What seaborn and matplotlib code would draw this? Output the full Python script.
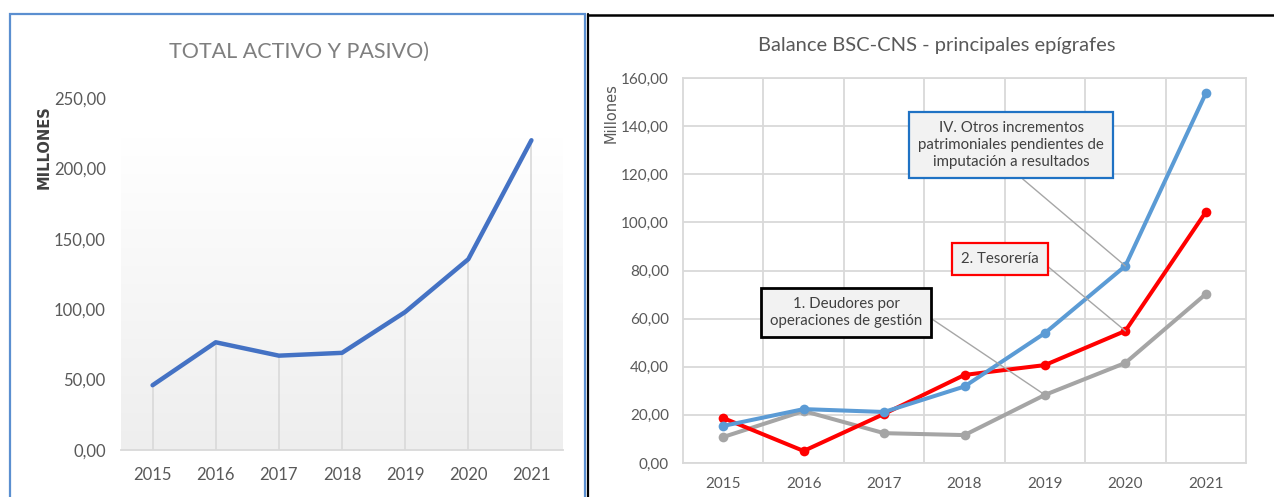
import numpy as np
import pandas as pd
import matplotlib
matplotlib.use("Agg")
import matplotlib.pyplot as plt
from matplotlib import font_manager
from matplotlib.colors import LinearSegmentedColormap
from matplotlib.lines import Line2D
from matplotlib.patches import Rectangle
import seaborn as sns

# -------------------------------
# Data
# -------------------------------
years = ["2015", "2016", "2017", "2018", "2019", "2020", "2021"]

# left chart: total activo y pasivo (millones)
total_activo_pasivo = [46.0, 76.5, 67.0, 69.0, 98.0, 135.5, 220.0]

# right chart: principales epigrafes (millones)
deudores = [10.8, 21.6, 12.4, 11.6, 28.3, 41.6, 70.2]
tesoreria = [18.7, 5.0, 20.4, 36.6, 40.7, 54.9, 104.3]
otros_incrementos = [15.4, 22.4, 21.2, 31.8, 54.0, 81.9, 153.6]

serie_names = ["1. Deudores por\noperaciones de gestión",
               "2. Tesorería",
               "IV. Otros incrementos\npatrimoniales pendientes de\nimputación a resultados"]
serie_colors = ["#a5a5a5", "#ff0000", "#5b9bd5"]

left_yticks = [0, 50, 100, 150, 200, 250]
right_yticks = [0, 20, 40, 60, 80, 100, 120, 140, 160]

# -------------------------------
# Style
# -------------------------------
sns.set_theme(style="white")
available = {f.name for f in font_manager.fontManager.ttflist}
narrow = "Liberation Sans Narrow" in available
base_font = "Liberation Sans Narrow" if narrow else "Lato"
plt.rcParams["font.family"] = [base_font, "DejaVu Sans"]
k = 1.15 if narrow else 1.0   # narrow fonts may be a bit bigger

txt = "#595959"
W, H = 1274, 497
fig = plt.figure(figsize=(W / 100, H / 100), dpi=100)
fig.patch.set_facecolor("white")


def fx(px):
    return px / W


def fy(py):
    return 1 - py / H


def fmt(v):
    return f"{v:.2f}".replace(".", ",")


# -------------------------------
# Left chart
# -------------------------------
ax1 = fig.add_axes([fx(121), fy(450), (563 - 121) / W, (450 - 98) / H])
pos = np.arange(len(years))

grad = LinearSegmentedColormap.from_list("g", ["#eeeeee", "#ffffff"])
ax1.imshow(np.linspace(0, 1, 256).reshape(-1, 1), cmap=grad, origin="lower",
           extent=[-0.5, 6.5, 0, 222], aspect="auto", zorder=0)
ax1.vlines(pos, 0, total_activo_pasivo, color="#d9d9d9", lw=1.2, zorder=1)
sns.lineplot(x=pos, y=total_activo_pasivo, ax=ax1, color="#4472c4",
             linewidth=3.2, zorder=3)

ax1.set_xlim(-0.5, 6.5)
ax1.set_ylim(0, 250)
ax1.set_xticks(pos)
ax1.set_xticklabels(years)
ax1.set_yticks(left_yticks)
ax1.set_yticklabels([fmt(v) for v in left_yticks])
ax1.tick_params(axis="y", length=0, pad=11, labelsize=12 * k, labelcolor=txt)
ax1.tick_params(axis="x", length=0, pad=12, labelsize=12 * k, labelcolor=txt)
for s in ["top", "left", "right"]:
    ax1.spines[s].set_visible(False)
ax1.spines["bottom"].set_color("#d9d9d9")
ax1.spines["bottom"].set_linewidth(1.3)
ax1.set_xlabel("")
ax1.set_ylabel("")
ax1.set_facecolor("white")

fig.text(fx(299), fy(52), "TOTAL ACTIVO Y PASIVO)", ha="center", va="center",
         fontsize=15.5 * k, color="#7f7f7f")
fig.text(fx(44), fy(147), "MILLONES", ha="center", va="center", rotation=90,
         fontsize=10.5, color="#404040", fontweight="bold",
         family=["DejaVu Sans"])

# panel frame
fig.add_artist(Rectangle((fx(10), fy(500)), fx(585) - fx(10), fy(14) - fy(500),
                         transform=fig.transFigure, fill=False,
                         edgecolor="#5b8fd0", lw=1.6))
fig.add_artist(Line2D([fx(588), fx(588)], [fy(14), fy(500)],
                      transform=fig.transFigure, color="black", lw=1.6))
fig.add_artist(Line2D([fx(588), fx(1274)], [fy(15), fy(15)],
                      transform=fig.transFigure, color="black", lw=1.8))

# -------------------------------
# Right chart
# -------------------------------
ax2 = fig.add_axes([fx(683), fy(463), (1246 - 683) / W, (463 - 78) / H])

df = pd.DataFrame({
    "pos": np.tile(pos, 3),
    "valor": deudores + tesoreria + otros_incrementos,
    "serie": np.repeat(serie_names, len(years)),
})
sns.lineplot(data=df, x="pos", y="valor", hue="serie", hue_order=serie_names,
             palette=serie_colors, marker="o", markersize=7, markeredgewidth=0,
             linewidth=2.9, legend=False, ax=ax2, zorder=3)

ax2.set_xlim(-0.5, 6.5)
ax2.set_ylim(0, 160)
ax2.set_xticks(pos)
ax2.set_xticklabels(years)
ax2.set_xticks(pos[:-1] + 0.5, minor=True)
ax2.set_yticks(right_yticks)
ax2.set_yticklabels([fmt(v) for v in right_yticks])
ax2.grid(which="major", axis="y", color="#d9d9d9", lw=1.3)
ax2.grid(which="minor", axis="x", color="#d9d9d9", lw=1.3)
ax2.grid(which="major", axis="x", visible=False)
ax2.tick_params(axis="both", which="both", length=0)
ax2.tick_params(axis="y", pad=10, labelsize=11 * k, labelcolor=txt)
ax2.tick_params(axis="x", pad=10, labelsize=11 * k, labelcolor=txt)
for s in ax2.spines.values():
    s.set_color("#d9d9d9")
    s.set_linewidth(1.3)
ax2.set_xlabel("")
ax2.set_ylabel("")

fig.text(fx(937), fy(45), "Balance BSC-CNS - principales epígrafes",
         ha="center", va="center", fontsize=14.5 * k, color=txt)
fig.text(fx(611), fy(113), "Millones", ha="center", va="center", rotation=90,
         fontsize=10.5, color=txt, family=["DejaVu Sans"])

# callouts
callouts = [
    (serie_names[2], 5, otros_incrementos[5], (3.58, 132.2), "#1f72c4", (0.5, 0.0), 1.6),
    (serie_names[1], 5, tesoreria[5], (3.44, 84.8), "#ff0000", (1.0, 0.5), 1.6),
    (serie_names[0], 4, deudores[4], (1.53, 62.5), "#000000", (1.0, 0.5), 2.0),
]
for label, xi, yv, xyt, ec, rp, lw in callouts:
    ax2.annotate(label, xy=(xi, yv), xytext=xyt, textcoords="data",
                 ha="center", va="center", fontsize=10.8 * k, color="#404040",
                 linespacing=1.3, zorder=5,
                 bbox=dict(boxstyle="square,pad=0.6", fc="#f2f2f2", ec=ec, lw=lw),
                 arrowprops=dict(arrowstyle="-", color="#a6a6a6", lw=1.0,
                                 relpos=rp, shrinkA=0, shrinkB=0))

plt.savefig("out.png", dpi=100)
